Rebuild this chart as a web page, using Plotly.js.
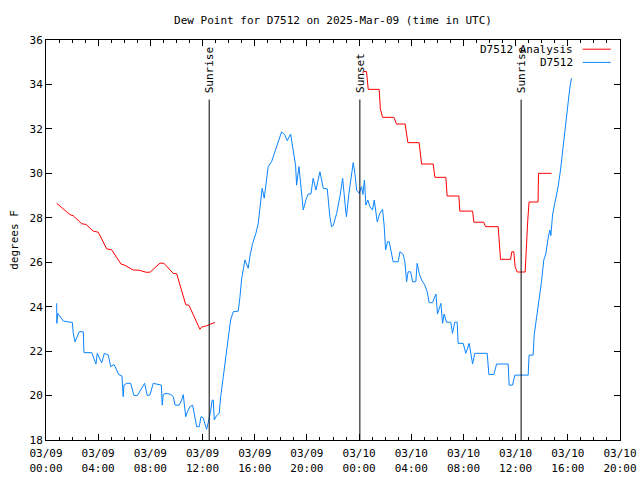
<!DOCTYPE html>
<html>
<head>
<meta charset="utf-8">
<script src="https://cdn.plot.ly/plotly-3.0.1.min.js"></script>
<style>html,body{margin:0;padding:0;background:#fff;}#chart{width:640px;height:480px;}</style>
</head>
<body>
<div id="chart"></div>
<script>
// Hours since 2025-03-09 00:00 UTC
const analysisHours = [0.82,1.84,2.09,2.74,3.07,3.62,4.01,4.65,5.03,5.75,6.05,6.69,7.15,7.66,7.97,8.35,8.74,9.04,9.75,10.02,10.71,10.96,11.8,11.93,12.31,12.95,
  18.0,
  24.27,24.37,24.57,24.7,25.54,25.63,25.8,26.67,26.87,27.53,27.74,28.6,28.79,29.68,29.81,30.65,30.75,31.65,31.72,32.7,32.8,33.56,33.69,34.66,34.84,35.61,35.71,35.86,35.96,36.12,36.73,36.84,36.93,37.03,37.72,37.75,38.75];
const analysisDew = [28.65,28.14,28.09,27.73,27.7,27.4,27.35,26.6,26.56,25.92,25.86,25.65,25.64,25.55,25.55,25.77,25.96,25.95,25.5,25.48,24.09,24.06,22.98,23.08,23.14,23.29,
  null,
  34.5,34.58,34.58,33.78,33.78,32.9,32.52,32.52,32.22,32.22,31.38,31.38,30.42,30.42,29.82,29.82,28.98,28.98,28.3,28.3,27.8,27.8,27.6,27.6,26.13,26.13,26.47,26.47,25.8,25.56,25.56,27.3,27.9,28.71,28.71,30.0,30.0];

const stationHours = [0.82,0.83,0.9,1.33,2.02,2.09,2.22,2.35,2.55,2.86,2.91,3.5,3.62,3.83,3.93,4.08,4.27,4.47,4.77,4.96,5.21,5.42,5.57,5.82,5.92,5.98,6.18,6.49,6.74,7.0,7.28,7.56,7.76,7.97,8.22,8.66,8.84,8.91,8.99,9.2,9.56,9.75,9.89,10.21,10.4,10.52,10.6,10.71,10.86,11.03,11.24,11.42,11.55,11.75,11.88,12.05,12.31,12.44,12.62,12.74,12.82,12.9,13.08,13.28,13.39,13.59,13.79,13.97,14.15,14.35,14.74,14.87,15.0,15.25,15.5,15.63,15.84,16.09,16.27,16.4,16.57,16.73,16.86,17.03,17.29,17.55,17.8,18.06,18.31,18.49,18.75,18.95,19.13,19.21,19.39,19.46,19.59,19.72,19.92,20.1,20.31,20.48,20.69,21.0,21.25,21.56,21.76,21.89,22.02,22.28,22.53,22.74,22.97,23.03,23.22,23.43,23.55,23.68,23.81,24.01,24.19,24.29,24.41,24.52,24.67,24.83,25.03,25.16,25.29,25.39,25.59,25.8,25.92,26.03,26.18,26.31,26.61,27.0,27.13,27.38,27.51,27.64,27.76,27.95,28.1,28.35,28.45,28.61,28.79,29.04,29.22,29.37,29.63,29.89,30.01,30.27,30.4,30.52,30.7,31.03,31.16,31.34,31.52,31.59,31.98,32.18,32.44,32.54,32.7,32.87,33.82,33.95,34.33,34.54,35.43,35.5,35.76,35.94,36.96,37.03,37.34,37.42,37.65,37.8,37.98,38.16,38.31,38.49,38.62,38.7,38.83,39.0,39.26,39.44,39.59,39.77,39.95,40.15,40.28];
const stationDew = [24.15,23.25,23.7,23.35,23.29,22.8,22.42,22.6,22.87,22.87,21.93,21.93,21.75,21.42,21.9,21.67,21.47,21.9,21.83,21.3,21.4,21.15,20.95,20.88,19.95,20.47,20.55,20.55,20.0,20.0,20.25,20.55,20.0,20.03,20.55,20.5,20.47,19.57,20.05,20.1,20.05,19.96,19.57,19.57,19.8,20.04,19.6,19.05,19.3,19.5,19.57,18.98,18.6,18.6,19.05,19.0,18.48,18.8,19.3,19.8,19.8,18.9,19.1,19.2,19.95,20.85,21.75,22.65,23.4,23.77,23.8,24.45,25.27,26.1,25.73,26.25,26.85,27.3,27.75,28.43,29.33,28.88,29.47,30.3,30.52,30.97,31.5,31.87,31.72,31.47,31.77,31.13,30.37,29.47,30.3,29.9,29.18,28.35,28.8,29.07,29.07,29.78,29.25,30.07,29.33,29.3,28.05,27.6,27.65,28.2,28.95,29.78,28.35,28.05,29.1,30.0,30.48,30.0,29.25,29.1,29.4,29.05,29.7,28.57,28.8,28.5,28.35,28.8,28.2,27.82,28.2,28.38,27.67,26.55,26.92,26.92,26.02,26.02,26.47,26.35,26.02,25.12,25.57,25.57,25.12,25.12,25.95,25.5,25.2,24.97,24.67,24.18,24.18,24.57,23.67,24.15,23.25,23.67,23.3,23.3,22.8,23.3,23.3,22.35,22.35,21.9,22.35,21.9,21.42,21.9,21.9,20.95,20.95,21.42,21.42,20.47,20.47,20.92,20.92,21.82,21.82,22.72,23.67,24.18,25.12,26.1,26.37,27.08,27.45,27.2,28.13,28.65,29.4,30.15,30.97,31.95,33.0,33.83,34.28];

const seriesNames = ['D7512 Analysis', 'D7512'];
const seriesColors = ['#ff0000', '#0a84ff'];

const tickHours = [0,4,8,12,16,20,24,28,32,36,40,44];
const tickLabels = ['03/09<br>00:00','03/09<br>04:00','03/09<br>08:00','03/09<br>12:00','03/09<br>16:00','03/09<br>20:00',
                    '03/10<br>00:00','03/10<br>04:00','03/10<br>08:00','03/10<br>12:00','03/10<br>16:00','03/10<br>20:00'];

const sunLabels = ['Sunrise','Sunset','Sunrise'];
const sunHours = [12.51,24.06,36.42];
const sunLineTop = 33.32;

const FONT = 'DejaVu Sans Mono, Liberation Mono, monospace';

const traces = [
  {x: analysisHours, y: analysisDew, type: 'scatter', mode: 'lines', name: seriesNames[0],
   line: {color: seriesColors[0], width: 1}, connectgaps: false},
  {x: stationHours, y: stationDew, type: 'scatter', mode: 'lines', name: seriesNames[1],
   line: {color: seriesColors[1], width: 1}}
];

const shapes = sunHours.map(h => ({type: 'line', xref: 'x', yref: 'y', x0: h, x1: h, y0: 18, y1: sunLineTop,
  line: {color: '#000', width: 1}}));
const annotations = sunHours.map((h, i) => ({xref: 'x', yref: 'y', x: h, y: sunLineTop + 0.2, text: sunLabels[i],
  textangle: -90, showarrow: false, xanchor: 'center', yanchor: 'bottom', font: {family: FONT, size: 11, color: '#000'}}));

// gnuplot-style key: text right-aligned, sample line to its right
const keyRowsY = [0.977, 0.944];
seriesNames.forEach((name, i) => {
  annotations.push({xref: 'paper', yref: 'paper', x: 0.922, y: keyRowsY[i], text: name, showarrow: false,
    xanchor: 'right', yanchor: 'middle', font: {family: FONT, size: 11, color: '#000'}});
  shapes.push({type: 'line', xref: 'paper', yref: 'paper', x0: 0.935, x1: 0.984, y0: keyRowsY[i], y1: keyRowsY[i],
    line: {color: seriesColors[i], width: 1}});
});

const layout = {
  width: 640, height: 480,
  margin: {l: 46, r: 20, t: 40, b: 40, pad: 0},
  paper_bgcolor: '#fff', plot_bgcolor: '#fff',
  font: {family: FONT, size: 11, color: '#000'},
  title: {text: 'Dew Point for D7512 on 2025-Mar-09 (time in UTC)', x: 0.5, xref: 'paper', y: 0.958, yanchor: 'middle',
          font: {family: FONT, size: 11, color: '#000'}},
  xaxis: {range: [0, 44], tickmode: 'array', tickvals: tickHours, ticktext: tickLabels,
          showgrid: false, zeroline: false, showline: true, mirror: 'ticks', linecolor: '#000', linewidth: 1,
          ticks: 'inside', ticklen: 6, tickcolor: '#000', tickfont: {family: FONT, size: 11}, ticklabelstandoff: 3,
          minor: {tickmode: 'linear', tick0: 0, dtick: 1, ticks: 'inside', ticklen: 3, tickcolor: '#000', showgrid: false}},
  yaxis: {range: [18, 36], dtick: 2, tick0: 18, showgrid: false, zeroline: false, showline: true, mirror: 'ticks',
          linecolor: '#000', linewidth: 1, ticks: 'inside', ticklen: 6, tickcolor: '#000', tickfont: {family: FONT, size: 11},
          title: {text: 'degrees F', standoff: 8, font: {family: FONT, size: 11}}},
  shapes: shapes,
  annotations: annotations,
  showlegend: false
};

Plotly.newPlot('chart', traces, layout, {staticPlot: true, displayModeBar: false});
</script>
</body>
</html>
